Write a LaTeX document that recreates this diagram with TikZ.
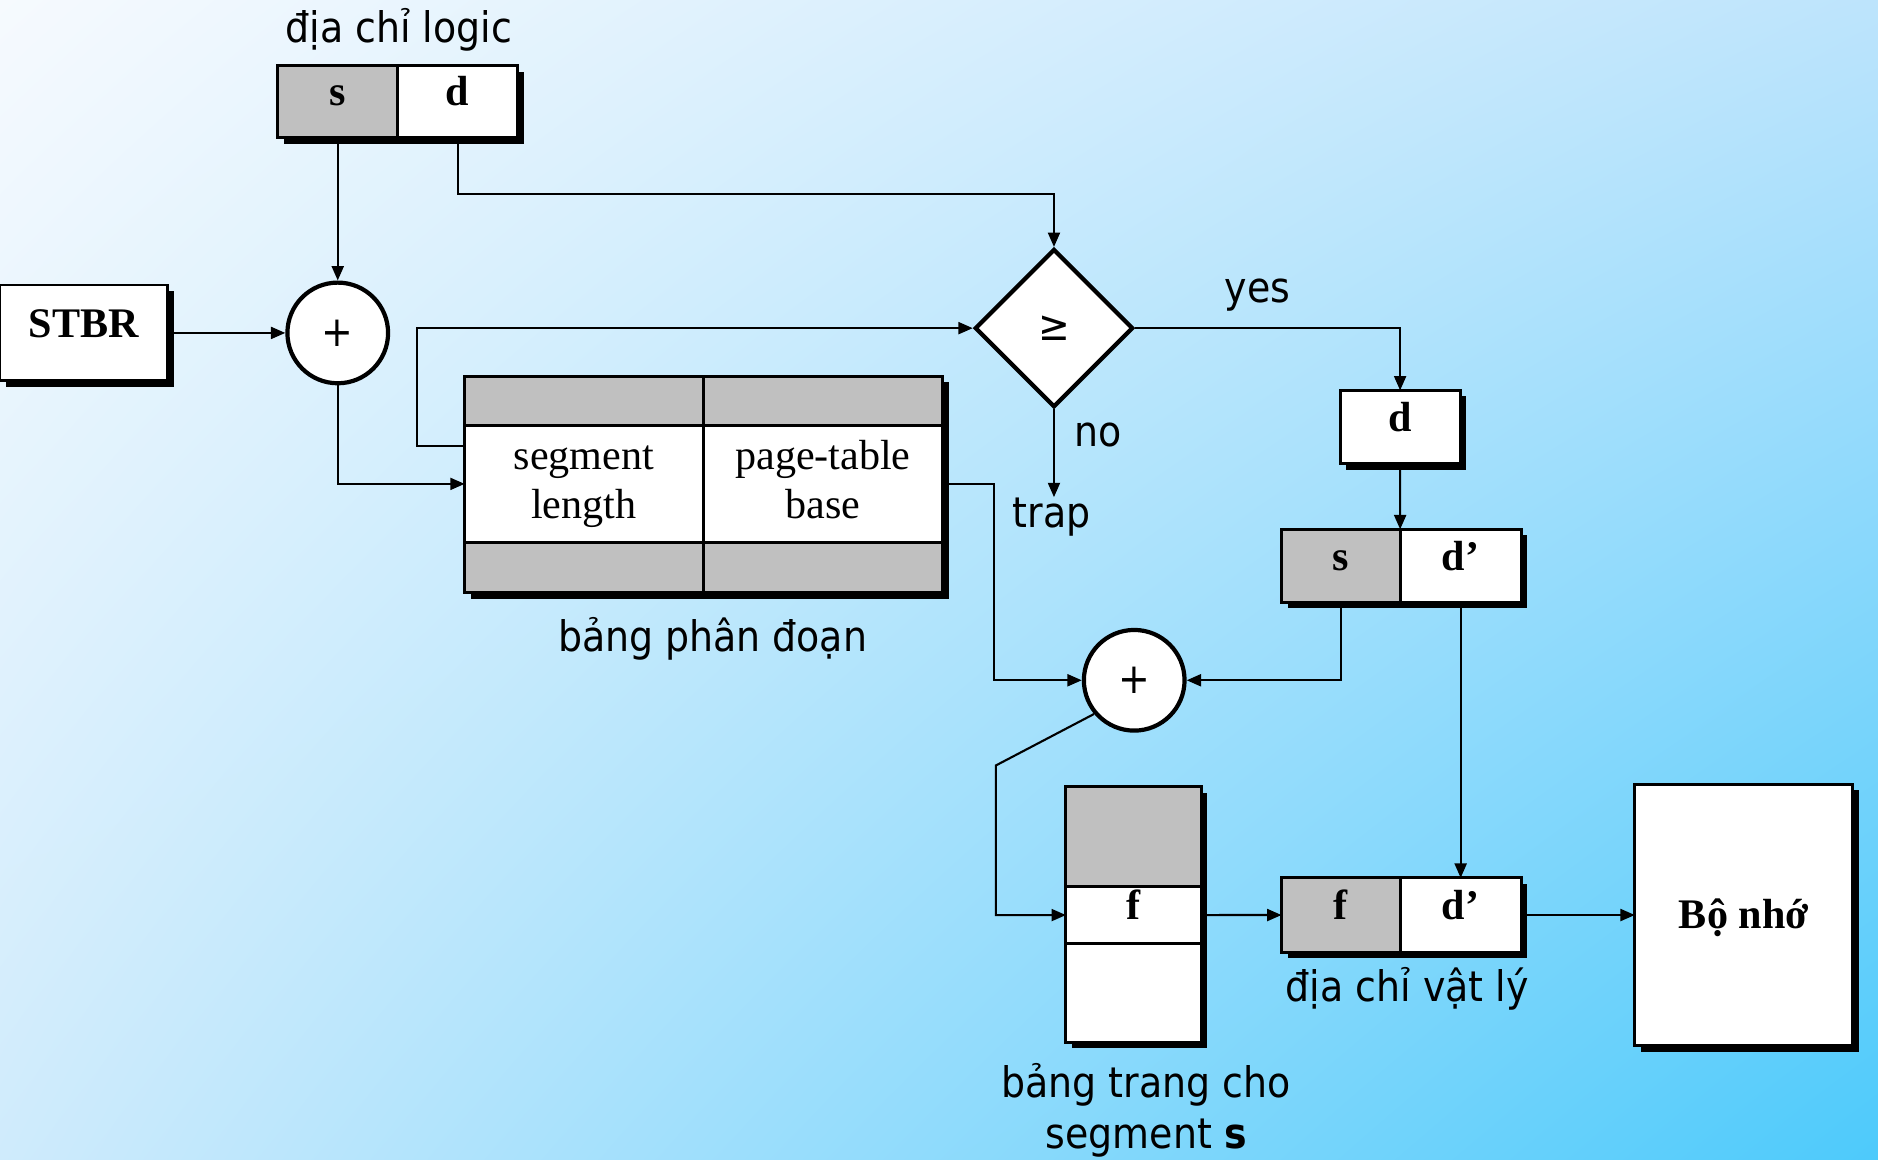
\documentclass[tikz,border=0pt]{standalone}
\usepackage{fontspec}
\setmainfont{Liberation Serif}
\newfontfamily\lblfont{DejaVu Sans Condensed}
\usetikzlibrary{arrows.meta,positioning,calc,shapes.geometric,shadows,shadings}
\definecolor{cellgray}{HTML}{C0C0C0}
\definecolor{bgul}{HTML}{F6FAFE}
\definecolor{bgur}{HTML}{BDE4FC}
\definecolor{bgll}{HTML}{CFEBFC}
\definecolor{bglr}{HTML}{4DCAFB}
\tikzset{every picture/.style={line width=0.5pt}}
\tikzset{
  shadowed/.style={drop shadow={shadow xshift=0.05cm,shadow yshift=-0.05cm,opacity=1,fill=black}},
  cell/.style={draw,line width=0.7pt,inner sep=0pt,outer sep=0pt,
    font=\fontsize{10}{12}\selectfont\bfseries,text height=0.6em,text depth=0.4em},
  graycell/.style={cell,fill=cellgray},
  whitecell/.style={cell,fill=white},
  tabcell/.style={draw,fill=white,line width=0.7pt,inner sep=0pt,outer sep=0pt,
    align=center,font=\fontsize{10}{11.7}\selectfont},
  adder/.style={circle,draw,fill=white,line width=1pt,minimum size=0.84cm,inner sep=0pt,
    font=\lblfont\fontsize{10}{12}\selectfont},
  lbl/.style={font=\lblfont\fontsize{10}{12}\selectfont,inner sep=0pt},
  conn/.style={-{Triangle[length=0.12cm,width=0.1cm]}},
}

\begin{document}
\begin{tikzpicture}[x=0.01cm,y=-0.01cm]
    \useasboundingbox (0,0) rectangle (1568,968);
    \shade[upper left=bgul,upper right=bgur,lower left=bgll,lower right=bglr] (0,0) rectangle (1568,968);
    % dia chi logic
    \node[lbl] (lgtitle) at (333,25) {địa chỉ logic};
    \node[graycell,shadowed,minimum width=1cm,minimum height=0.6cm] (ls) at (282,85) {s};
    \node[whitecell,shadowed,minimum width=1cm,minimum height=0.6cm,right=0pt of ls] (ld) {d};
    % STBR va bo cong
    \node[whitecell,shadowed,minimum width=1.4cm,minimum height=0.8cm] (stbr) at (70,278) {STBR};
    \node[adder] (add1) at (282,278) {+};
    % bang phan doan
    \node[graycell,shadowed,minimum width=1.99cm,minimum height=0.41cm] (sg1) at (487.5,334.5) {};
    \node[graycell,shadowed,minimum width=2cm,minimum height=0.41cm,right=0pt of sg1] (sg2) {};
    \node[tabcell,shadowed,minimum width=1.99cm,minimum height=0.98cm,below=0pt of sg1] (sl) {\strut segment\\\strut length};
    \node[tabcell,shadowed,minimum width=2cm,minimum height=0.98cm,right=0pt of sl] (sb) {\strut page-table\\\strut base};
    \node[graycell,shadowed,minimum width=1.99cm,minimum height=0.42cm,below=0pt of sl] (sg3) {};
    \node[graycell,shadowed,minimum width=2cm,minimum height=0.42cm,right=0pt of sg3] (sg4) {};
    \node[lbl] (segtitle) at (595,533) {bảng phân đoạn};
    % so sanh
    \node[diamond,draw,fill=white,line width=1pt,minimum width=1.32cm,minimum height=1.32cm,lbl] (cmp) at (880,274) {≥};
    \node[lbl] (yeslbl) at (1050,246) {yes};
    \node[lbl] (nolbl) at (917,363) {no};
    \node[lbl] (trap) at (878,432) {trap};
    % d, s d'
    \node[whitecell,shadowed,minimum width=1cm,minimum height=0.61cm] (dbox) at (1169,356.5) {d};
    \node[graycell,shadowed,minimum width=0.99cm,minimum height=0.61cm] (ps) at (1119.5,472.5) {s};
    \node[whitecell,shadowed,minimum width=1.01cm,minimum height=0.61cm,right=0pt of ps] (pd) {d’};
    \node[adder] (add2) at (947,568) {+};
    % bang trang
    \node[graycell,shadowed,minimum width=1.13cm,minimum height=0.83cm] (pg1) at (946.5,698.5) {};
    \node[whitecell,shadowed,minimum width=1.13cm,minimum height=0.48cm,below=0pt of pg1] (pf) {f};
    \node[whitecell,shadowed,minimum width=1.13cm,minimum height=0.82cm,below=0pt of pf] (pg3) {};
    \node[lbl,align=center,font=\lblfont\fontsize{10}{12}\selectfont] (pgtitle) at (957,927) {bảng trang cho\\segment \textbf{s}};
    % dia chi vat ly
    \node[graycell,shadowed,minimum width=0.99cm,minimum height=0.62cm] (qf) at (1119.5,764) {f};
    \node[whitecell,shadowed,minimum width=1.01cm,minimum height=0.62cm,right=0pt of qf] (qd) {d’};
    \node[lbl] (phtitle) at (1175,826) {địa chỉ vật lý};
    \node[whitecell,shadowed,minimum width=1.82cm,minimum height=2.18cm,text height=0.66em,text depth=0pt] (mem) at (1456,764) {Bộ nhớ};
    % ket noi
    \coordinate (loopout) at ($(sl.west)+(0,-32)$);
    \draw[conn] (ls) -- (add1);
    \draw[conn] (ld.south) -- ++(0,47) -| (cmp.north);
    \draw[conn] (stbr) -- (add1);
    \draw[conn] (add1.south) |- (sl.west);
    \draw[conn] (loopout) -- ++(-40,0) |- (cmp.west);
    \draw[conn] (cmp.east) -| (dbox.north);
    \draw[conn] (cmp.south) -- (cmp.south |- trap.north);
    \draw[conn] (dbox) -- (ps.north east);
    \draw[conn] (sb.east) -- ++(43,0) |- (add2.west);
    \draw[conn] (ps.south) |- (add2.east);
    \draw[conn] (add2.220) -- ++(-82,43) |- (pf.west);
    \draw[conn] (pf) -- (qf);
    \draw[conn] (pd) -- (qd);
    \draw[conn] (qd) -- (mem);
\end{tikzpicture}
\end{document}
